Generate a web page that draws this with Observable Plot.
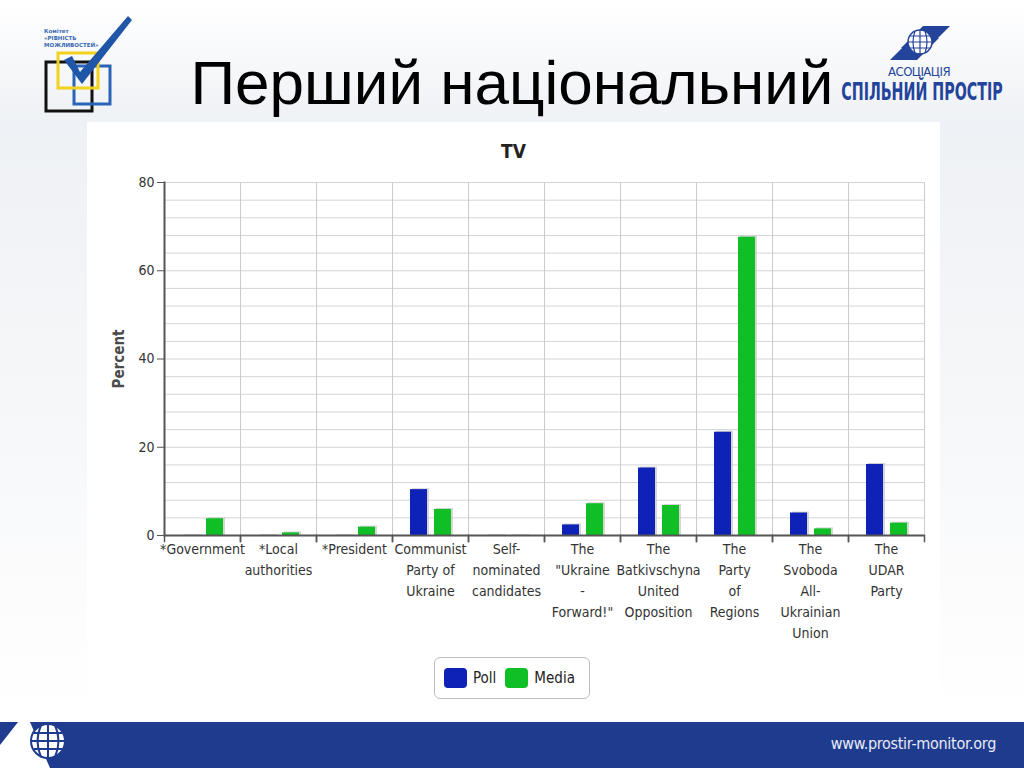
<!DOCTYPE html>
<html>
<head>
<meta charset="utf-8">
<script src="https://cdn.jsdelivr.net/npm/d3@7"></script>
<script src="https://cdn.jsdelivr.net/npm/@observablehq/plot@0.6"></script>
<style>
  html, body { margin: 0; padding: 0; }
  body { width: 1024px; height: 768px; position: relative; overflow: hidden;
         background: linear-gradient(#ffffff 0px, #eef1f5 125px, #f6f7f9 400px, #ffffff 720px);
         font-family: "DejaVu Sans Condensed", "DejaVu Sans", sans-serif; }
  #title { position: absolute; left: 0; width: 1024px; top: 52px; text-align: center;
           font-family: "Liberation Sans", Arial, sans-serif; font-size: 62px; line-height: 62px; color: #000; }
  #panel { position: absolute; left: 87px; top: 122px; width: 853px; height: 600px; background: #fff; }
  #tv { position: absolute; left: 87px; width: 853px; top: 140px; text-align: center;
        font-size: 19px; font-weight: bold; color: #222; }
  #chart { position: absolute; left: 87px; top: 170px; }
  #legend { position: absolute; left: 434px; top: 657px; width: 154px; height: 40px;
            border: 1.5px solid #bdbdbd; border-radius: 6px; background: #fff;
            display: flex; align-items: center; font-size: 15px; color: #222; }
  #legend .item { display: flex; align-items: center; margin-left: 9px; }
  #legend .sw { width: 23px; height: 20px; border-radius: 4px; margin-right: 6px; }
  #footer { position: absolute; left: 0; top: 722px; width: 1024px; height: 46px; background: #1f3b8e; }
  #url { position: absolute; right: 28px; top: 734px; color: #e8ecf6; font-size: 16px;
         font-family: "DejaVu Sans Condensed", sans-serif; letter-spacing: -0.3px; }
  svg.deco { position: absolute; }
</style>
</head>
<body>
<div id="panel"></div>
<div id="title">Перший національний</div>

<svg class="deco" style="left:0;top:0" width="150" height="125">
  <text x="44" y="33" font-size="5.5" font-weight="bold" fill="#3a68b0" font-family="DejaVu Sans">Комітет</text>
  <text x="44" y="40" font-size="5.5" font-weight="bold" fill="#3a68b0" font-family="DejaVu Sans">«РІВНІСТЬ</text>
  <text x="44" y="47" font-size="5.5" font-weight="bold" fill="#3a68b0" font-family="DejaVu Sans">МОЖЛИВОСТЕЙ»</text>
  <rect x="46" y="62" width="46" height="49" fill="none" stroke="#111" stroke-width="3"/>
  <rect x="74" y="66" width="36" height="38" fill="none" stroke="#2a64b8" stroke-width="3"/>
  <rect x="58" y="53" width="40" height="35" fill="none" stroke="#f2d21a" stroke-width="3"/>
  <path d="M64 60 L72 56 L80 72 L128 16 L132 20 L82 84 Z" fill="#1f56a8"/>
</svg>

<svg class="deco" style="left:835px;top:20px" width="185" height="90">
  <path d="M66 28 L88 6 L115 6 L93 28 Z" fill="#24439a"/>
  <path d="M55 40 L77 18 L104 18 L82 40 Z" fill="#24439a"/>
  <circle cx="85" cy="22" r="12" fill="#fff" stroke="#24439a" stroke-width="1.5"/>
  <path d="M73 22 H97 M85 10 V34 M75 16 H95 M75 28 H95 M80 11 Q76 22 80 33 M90 11 Q94 22 90 33" stroke="#24439a" stroke-width="1.2" fill="none"/>
  <text x="84" y="56" font-size="13" text-anchor="middle" fill="#24439a" font-family="DejaVu Sans Condensed" letter-spacing="-0.5">АСОЦІАЦІЯ</text>
  <g transform="translate(87,80) scale(0.66,1)">
    <text x="0" y="0" font-size="24" font-weight="bold" text-anchor="middle" fill="#24439a" font-family="DejaVu Sans Condensed">СПІЛЬНИЙ ПРОСТІР</text>
  </g>
</svg>

<div id="tv">TV</div>
<div id="chart"></div>
<div id="legend"></div>

<div id="footer"></div>
<svg class="deco" style="left:0;top:715px" width="120" height="53">
  <path d="M0 53 L0 30 L22 2 L42 2 L42 7 L30 7 L50 53 Z" fill="#fff"/>
  <circle cx="48" cy="26" r="17" fill="#fff" stroke="#1f3b8e" stroke-width="2"/>
  <path d="M31 26 H65 M48 9 V43 M34 18 H62 M34 34 H62 M41 10 Q34 26 41 42 M55 10 Q62 26 55 42" stroke="#1f3b8e" stroke-width="2" fill="none"/>
</svg>
<div id="url">www.prostir-monitor.org</div>

<script>
// ---- data ----
const categories = [
  "*Government", "*Local authorities", "*President", "Communist Party of Ukraine",
  "Self-nominated candidates", "The \"Ukraine - Forward!\"", "The Batkivschyna United Opposition",
  "The Party of Regions", "The Svoboda All-Ukrainian Union", "The UDAR Party"
];
const tickLabels = [
  "*Government", "*Local\nauthorities", "*President", "Communist\nParty of\nUkraine",
  "Self-\nnominated\ncandidates", "The\n\"Ukraine\n-\nForward!\"", "The\nBatkivschyna\nUnited\nOpposition",
  "The\nParty\nof\nRegions", "The\nSvoboda\nAll-\nUkrainian\nUnion", "The\nUDAR\nParty"
];
const series = ["Poll", "Media"];
const pollValues  = [0, 0, 0, 10.4, 0, 2.4, 15.3, 23.4, 5.1, 16.1];
const mediaValues = [3.8, 0.6, 1.9, 5.9, 0, 7.2, 6.8, 67.6, 1.5, 2.8];
const yTicks = [0, 20, 40, 60, 80];
const yLabel = "Percent";
const colors = ["#0f22b8", "#10bf25"];

// ---- table built from arrays ----
const rows = categories.flatMap((c, i) => [
  {category: c, series: "Poll", value: pollValues[i]},
  {category: c, series: "Media", value: mediaValues[i]}
]);

const W = 853, H = 475, mt = 12, mb = 110, ml = 75, mr = 14;
const plotH = H - mt - mb;
const font = "DejaVu Sans Condensed, DejaVu Sans, sans-serif";

const chart = Plot.plot({
  width: W, height: H, marginTop: mt, marginBottom: mb, marginLeft: ml, marginRight: mr,
  style: {fontFamily: font, fontSize: "14px", color: "#333", background: "transparent", overflow: "visible"},
  fx: {domain: categories, padding: 0, label: null},
  x: {domain: series, axis: null, paddingInner: 0.3, paddingOuter: 0.72},
  y: {domain: [0, 80], label: null},
  color: {domain: series, range: colors},
  marks: [
    Plot.gridY(d3.range(0, 81, 4), {stroke: "#d4d4d4", strokeOpacity: 1}),
    Plot.frame({anchor: "left", stroke: "#cbcbcb"}),
    Plot.frame({anchor: "right", stroke: "#cbcbcb"}),
    Plot.frame({anchor: "left", insetTop: plotH, insetBottom: -6, stroke: "#555", strokeWidth: 1.5}),
    Plot.frame({anchor: "right", insetTop: plotH, insetBottom: -6, stroke: "#555", strokeWidth: 1.5}),
    Plot.barY(rows, {fx: "category", x: "series", y: "value", fill: "#c4c4c4", fillOpacity: 0.7, dx: 2, insetTop: -1}),
    Plot.barY(rows, {fx: "category", x: "series", y: "value", fill: "series"}),
    Plot.ruleY([0], {stroke: "#555", strokeWidth: 2}),
    Plot.frame({anchor: "left", stroke: "#555", strokeWidth: 2, facetAnchor: "left"}),
    Plot.axisY({ticks: yTicks, tickSize: 7, tickPadding: 3, fontSize: 14, stroke: "#555", label: null}),
    Plot.text([yLabel], {text: d => d, frameAnchor: "left", textAnchor: "middle", rotate: -90, dx: -45,
                         fontSize: 15, fontWeight: "bold", fill: "#4a4a4a", facetAnchor: "left"}),
    Plot.axisFx({anchor: "bottom", tickSize: 0, tickPadding: 4, fontSize: 14, lineHeight: 1.5, label: null,
                 tickFormat: d => tickLabels[categories.indexOf(d)]})
  ]
});
document.getElementById("chart").appendChild(chart);

// ---- legend ----
const legend = document.getElementById("legend");
series.forEach((s, i) => {
  const item = document.createElement("div");
  item.className = "item";
  const sw = document.createElement("div");
  sw.className = "sw";
  sw.style.background = colors[i];
  const t = document.createElement("span");
  t.textContent = s;
  item.appendChild(sw); item.appendChild(t);
  legend.appendChild(item);
});
</script>
</body>
</html>
